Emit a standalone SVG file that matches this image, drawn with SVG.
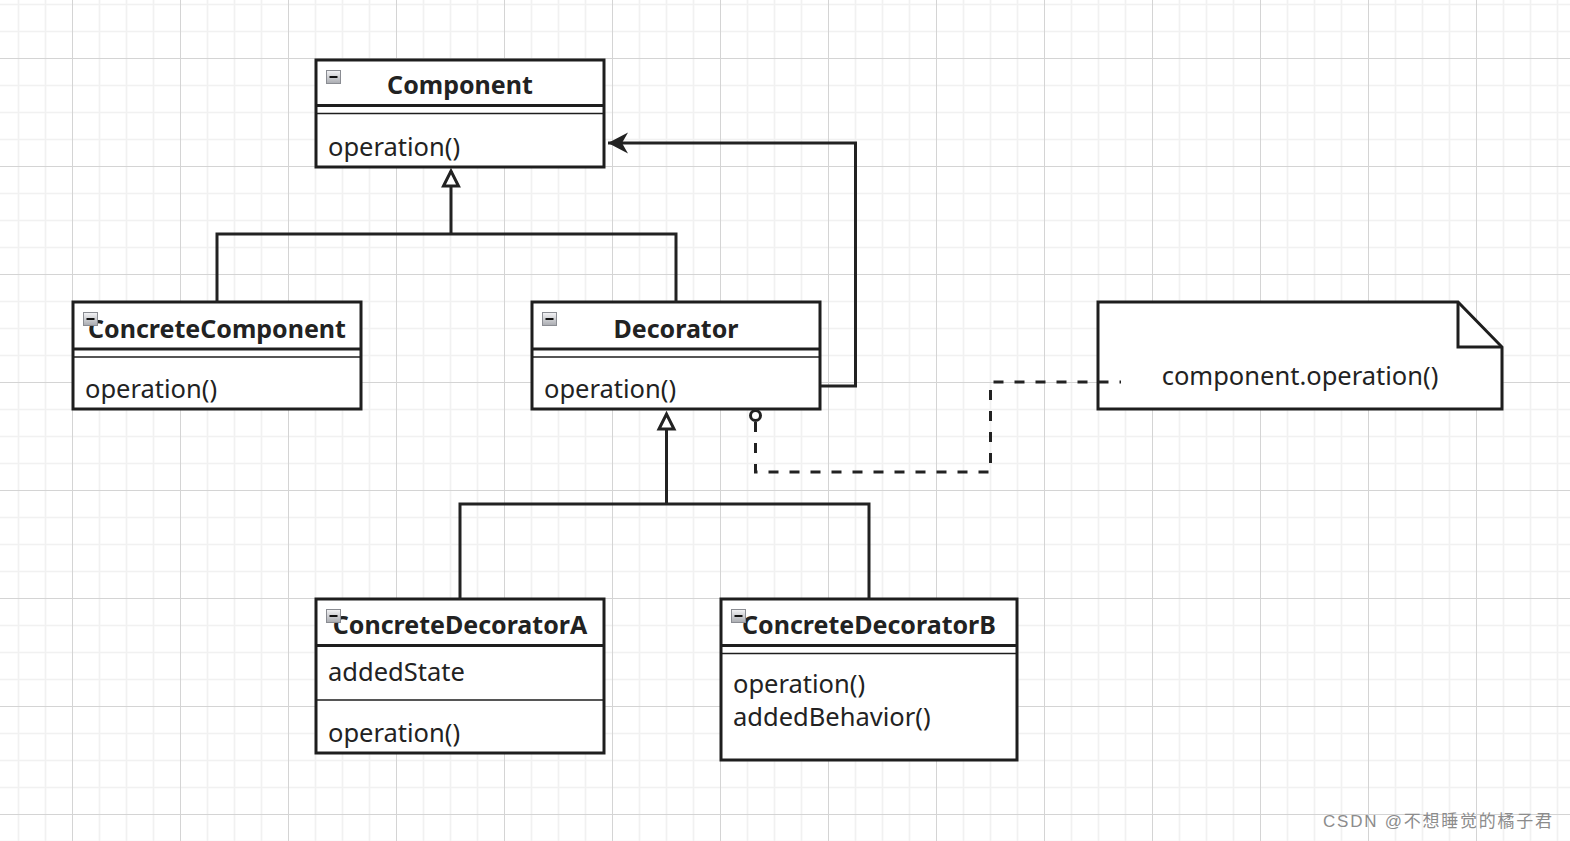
<svg xmlns="http://www.w3.org/2000/svg" width="1570" height="841" viewBox="0 0 1570 841">
<style>
.box{fill:#fff;stroke:#1e1e1e;stroke-width:3}
.hd{stroke:#1e1e1e;stroke-width:3}
.th{stroke:#1e1e1e;stroke-width:1.6}
.title{font-family:"Noto Sans","Open Sans",sans-serif;font-weight:bold;font-size:25px;fill:#222;text-anchor:middle}
.txt{font-family:"Noto Sans","Open Sans",sans-serif;font-size:25.5px;fill:#222}
.edge{fill:none;stroke:#222;stroke-width:3}
.dash{fill:none;stroke:#222;stroke-width:3;stroke-dasharray:10 11}
.wm{font-family:"Liberation Sans","Noto Sans CJK SC",sans-serif;font-size:17px;fill:#8c8c8c}
</style>
<defs>
<pattern id="grid" x="72" y="58" width="108" height="108" patternUnits="userSpaceOnUse">
<rect width="108" height="108" fill="#fff"/>
<path d="M27.5,0V108M54.5,0V108M81.5,0V108M0,27.5H108M0,54.5H108M0,81.5H108" stroke="#f1f1f1" stroke-width="1.6"/>
<path d="M0.5,0V108M0,0.5H108" stroke="#d4d4d4" stroke-width="1"/>
</pattern>
<linearGradient id="ig" x1="0" y1="0" x2="0" y2="1">
<stop offset="0" stop-color="#f4f4f6"/>
<stop offset="1" stop-color="#a9abb0"/>
</linearGradient>
<symbol id="icon" viewBox="0 0 15 14" width="15" height="14">
<rect x="0.5" y="0.5" width="14" height="13" fill="url(#ig)" stroke="#8a8c92"/>
<path d="M3.5,7H11.5" stroke="#111" stroke-width="2"/>
</symbol>
<marker id="tri" markerUnits="userSpaceOnUse" markerWidth="24" markerHeight="24" refX="0" refY="0" viewBox="-20 -12 24 24" orient="auto" overflow="visible">
<path d="M-15,-7.5L0,0L-15,7.5Z" fill="#fff" stroke="#222" stroke-width="3"/>
</marker>
<marker id="arr" markerUnits="userSpaceOnUse" markerWidth="26" markerHeight="26" refX="0" refY="0" viewBox="-23 -13 26 26" orient="auto" overflow="visible">
<path d="M0,0L-20,-10.5L-14,0L-20,10.5Z" fill="#222"/>
</marker>
</defs>
<rect width="1570" height="841" fill="url(#grid)"/>

<g id="component">
<rect class="box" x="316" y="60" width="288" height="107"/>
<line class="hd" x1="316" y1="105.5" x2="604" y2="105.5"/>
<line class="th" x1="316" y1="113.5" x2="604" y2="113.5"/>
<text class="title" x="460" y="94">Component</text>
<text class="txt" x="328" y="156">operation()</text>
<use href="#icon" x="326" y="70"/>
</g>

<g id="concretecomponent">
<rect class="box" x="73" y="302" width="288" height="107"/>
<line class="hd" x1="73" y1="349" x2="361" y2="349"/>
<line class="th" x1="73" y1="357" x2="361" y2="357"/>
<text class="title" x="217" y="338">ConcreteComponent</text>
<text class="txt" x="85" y="398">operation()</text>
<use href="#icon" x="83" y="312"/>
</g>

<g id="decorator">
<rect class="box" x="532" y="302" width="288" height="107"/>
<line class="hd" x1="532" y1="349" x2="820" y2="349"/>
<line class="th" x1="532" y1="357" x2="820" y2="357"/>
<text class="title" x="676" y="338">Decorator</text>
<text class="txt" x="544" y="398">operation()</text>
<use href="#icon" x="542" y="312"/>
</g>

<g id="concretedecoratora">
<rect class="box" x="316" y="599" width="288" height="154"/>
<line class="hd" x1="316" y1="645.5" x2="604" y2="645.5"/>
<line class="th" x1="316" y1="700" x2="604" y2="700"/>
<text class="title" x="460" y="634">ConcreteDecoratorA</text>
<text class="txt" x="328" y="681">addedState</text>
<text class="txt" x="328" y="742">operation()</text>
<use href="#icon" x="326" y="609"/>
</g>

<g id="concretedecoratorb">
<rect class="box" x="721" y="599" width="296" height="161"/>
<line class="hd" x1="721" y1="645.5" x2="1017" y2="645.5"/>
<line class="th" x1="721" y1="653.5" x2="1017" y2="653.5"/>
<text class="title" x="869" y="634">ConcreteDecoratorB</text>
<text class="txt" x="733" y="693">operation()</text>
<text class="txt" x="733" y="726">addedBehavior()</text>
<use href="#icon" x="731" y="609"/>
</g>

<g id="note">
<path class="box" d="M1098,302H1458L1502,347V409H1098Z"/>
<path d="M1458,302V347H1502" fill="none" stroke="#1e1e1e" stroke-width="3"/>
<text class="txt" x="1300" y="385" text-anchor="middle" font-size="26">component.operation()</text>
</g>

<g id="connectors">
<path class="edge" d="M451,234V171" marker-end="url(#tri)"/>
<path class="edge" d="M217,303V234H676V303"/>
<path class="edge" d="M666.5,504V414" marker-end="url(#tri)"/>
<path class="edge" d="M460,600V504H869V600"/>
<path class="edge" d="M821,386H855.5V143H608" marker-end="url(#arr)"/>
<path class="dash" d="M755.5,422V472H990.5V382H1121"/>
<circle cx="755.5" cy="415.5" r="5" fill="#fff" stroke="#222" stroke-width="3"/>
</g>

<text class="wm" x="1323" y="827" textLength="229" lengthAdjust="spacing">CSDN @不想睡觉的橘子君</text>
</svg>
